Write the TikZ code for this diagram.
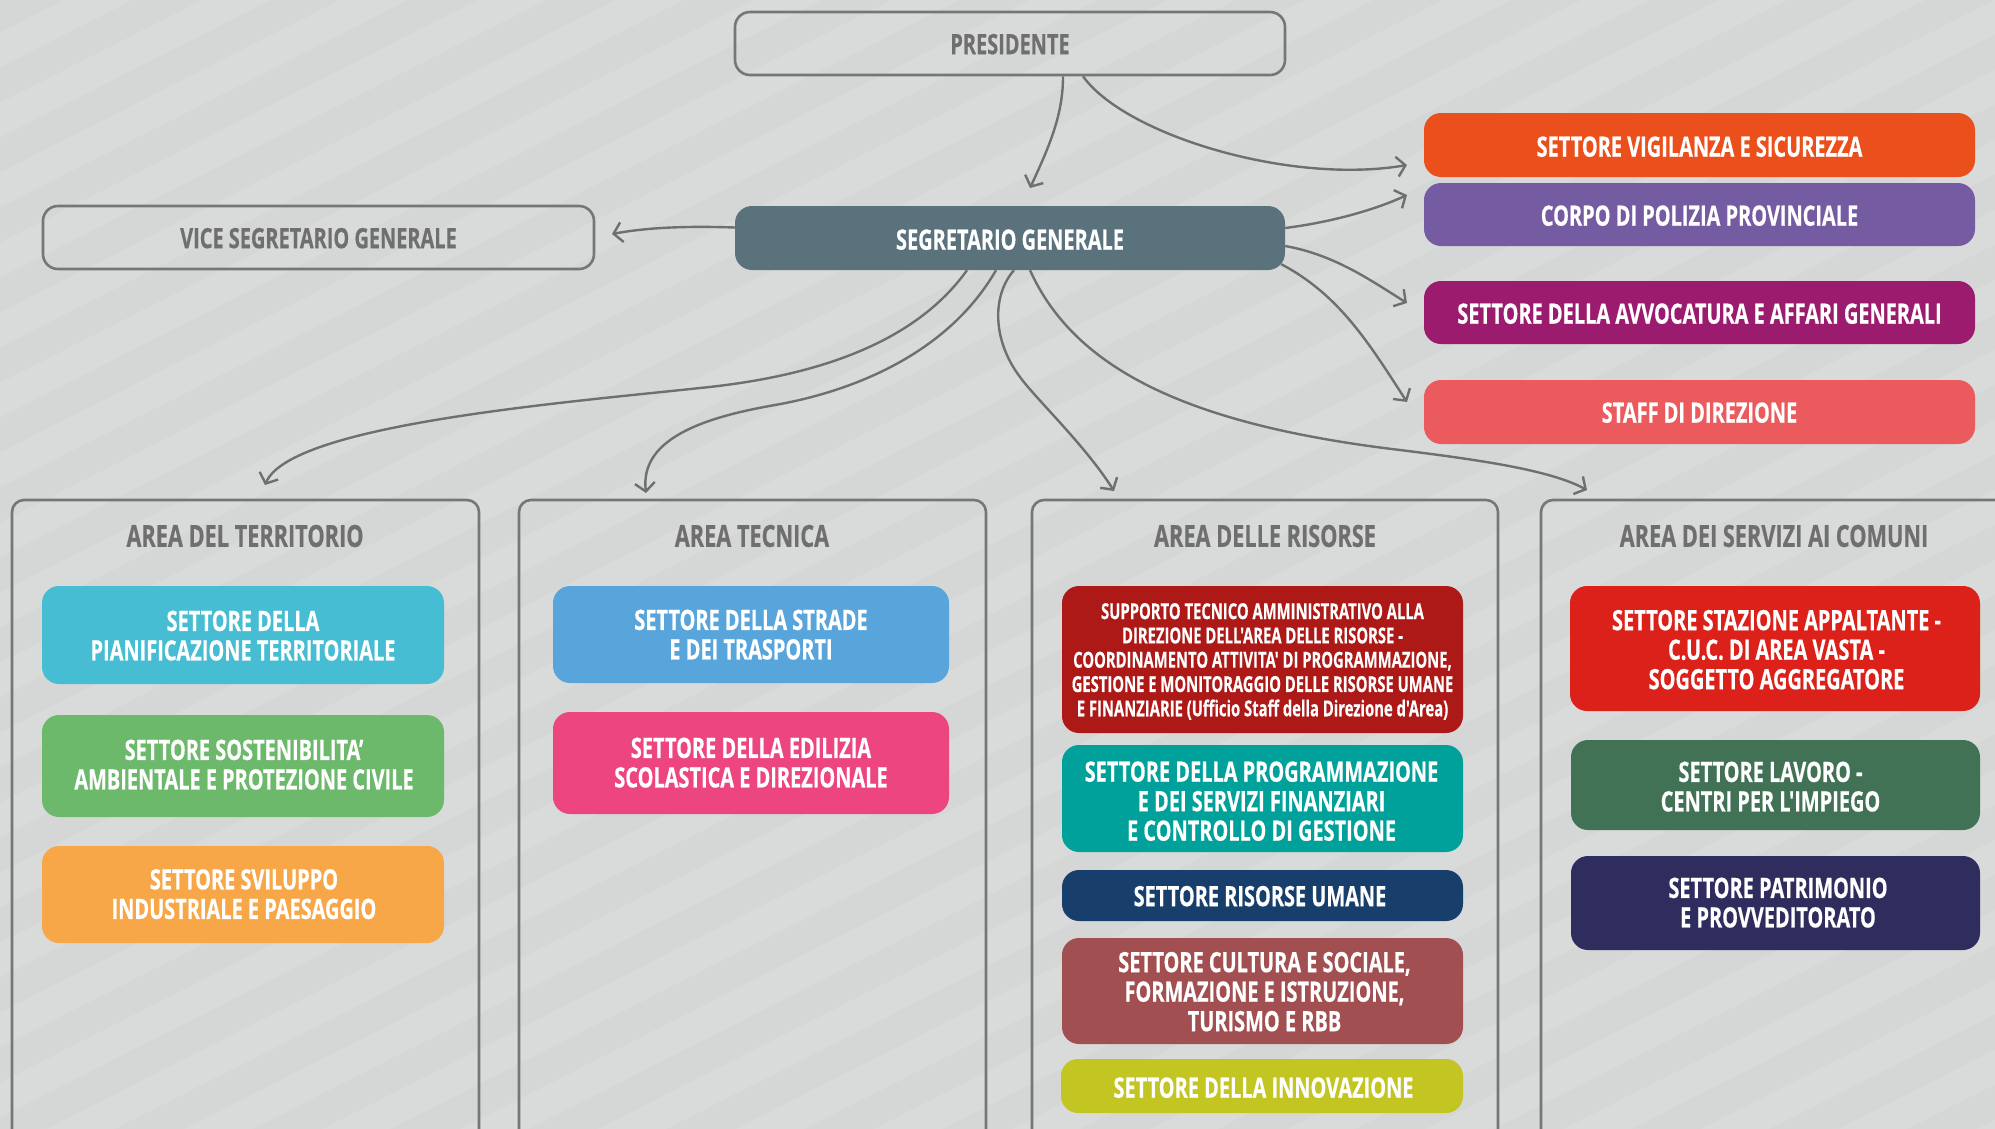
\documentclass[tikz,border=0pt]{standalone}
\usepackage{fontspec}
\usetikzlibrary{arrows.meta,calc}
\newfontfamily\cnd[FakeStretch=0.712,FakeBold=0.5]{Open Sans}
\newfontfamily\cndS[FakeStretch=0.673,FakeBold=0.4]{Open Sans}
\definecolor{bgA}{HTML}{D9DBDA}
\definecolor{bgB}{HTML}{D5D7D6}
\definecolor{edge}{HTML}{757675}
\definecolor{ink}{HTML}{6E6F6E}
\definecolor{cPoli}{HTML}{755CA2}
\definecolor{cVig}{HTML}{EA4F1C}
\definecolor{cAvv}{HTML}{9B1B6F}
\definecolor{cStaff}{HTML}{EB5A5C}
\definecolor{cSeg}{HTML}{5A727C}
\definecolor{cPian}{HTML}{47BDD3}
\definecolor{cSost}{HTML}{6CB96C}
\definecolor{cSvil}{HTML}{F8A748}
\definecolor{cStra}{HTML}{58A5DC}
\definecolor{cEdil}{HTML}{EC4580}
\definecolor{cSupp}{HTML}{AC1917}
\definecolor{cProg}{HTML}{00A19A}
\definecolor{cUman}{HTML}{183F6C}
\definecolor{cCult}{HTML}{A14F51}
\definecolor{cInno}{HTML}{C3C622}
\definecolor{cStaz}{HTML}{DB2119}
\definecolor{cLavo}{HTML}{427256}
\definecolor{cPatr}{HTML}{2F2D5E}
\tikzset{
  txt/.style={font=\cnd\bfseries\fontsize{28}{29.5}\selectfont,inner sep=0pt},
  fillbox/.style={txt,text=white,rounded corners=17,draw=none},
  outbox/.style={txt,text=ink,rounded corners=15,draw=edge,line width=2.6},
  panel/.style={rounded corners=12,draw=edge,line width=2.6},
  areatitle/.style={font=\cnd\bfseries\fontsize{30.5}{32}\selectfont,inner sep=0pt,text=ink},
  link/.style={draw=ink,line width=2.4,-{Straight Barb[length=8.5,width=20,line width=2.4]}}
}
% #1 name, #2 x1, #3 y1, #4 x2, #5 y2, #6 style, #7 text dx, #8 text dy, #9 text
\newcommand{\bx}[9]{%
  \node[#6,minimum width={(#4-#2)*1pt},minimum height={(#5-#3)*1pt}] (#1) at ({(#2+#4)/2},{(#3+#5)/2})
  {\raisebox{\dimexpr-11pt-#8pt\relax}[0pt][0pt]{\makebox[0pt][c]{\hspace*{#7pt}\hspace*{#7pt}\begin{tabular}{@{}c@{}}#9\end{tabular}}}};}
\newcommand{\pn}[5]{%
  \node[panel,minimum width={(#4-#2)*1pt},minimum height={(#5-#3)*1pt}] (#1) at ({(#2+#4)/2},{(#3+#5)/2}) {};}
\begin{document}
\begin{tikzpicture}[x=1pt,y=-1pt]
\useasboundingbox (0,0) rectangle (1995,1128);
\clip (-5,-5) rectangle (2000,1133);
\fill[bgA] (-5,-5) rectangle (2000,1133);
\foreach \k in {0,...,32}{
  \fill[bgB] (-5,{\k*70}) -- (-5,{\k*70+35}) -- (2000,{\k*70+35-1018}) -- (2000,{\k*70-1018}) -- cycle;
}
\bx{pres}{735}{12}{1285}{75}{outbox}{0}{0}{PRESIDENTE}
\bx{vice}{43}{206}{594}{269}{outbox}{0}{0}{VICE SEGRETARIO GENERALE}
\bx{seg}{735}{206}{1285}{270}{fillbox,fill=cSeg}{0}{1}{SEGRETARIO GENERALE}
\bx{vig}{1424}{113}{1975}{177}{fillbox,fill=cVig}{0}{1}{SETTORE VIGILANZA E SICUREZZA}
\bx{poli}{1424}{183}{1975}{246}{fillbox,fill=cPoli}{0}{0.5}{CORPO DI POLIZIA PROVINCIALE}
\bx{avv}{1424}{281}{1975}{344}{fillbox,fill=cAvv}{0}{0.5}{SETTORE DELLA AVVOCATURA E AFFARI GENERALI}
\bx{staff}{1424}{380}{1975}{444}{fillbox,fill=cStaff}{0}{0}{STAFF DI DIREZIONE}
% panels
\pn{pA}{12}{500}{479}{1220}
\pn{pB}{519}{500}{986}{1220}
\pn{pC}{1032}{500}{1498}{1220}
\pn{pD}{1541}{500}{2010}{1220}
\node[areatitle] (tA) at (245,536) {AREA DEL TERRITORIO};
\node[areatitle] (tB) at (752,536) {AREA TECNICA};
\node[areatitle] (tC) at (1265,536) {AREA DELLE RISORSE};
\node[areatitle] (tD) at (1774,536) {AREA DEI SERVIZI AI COMUNI};
% area 1
\bx{pian}{42}{586}{444}{684}{fillbox,fill=cPian}{0}{0}{SETTORE DELLA\\PIANIFICAZIONE TERRITORIALE}
\bx{sost}{42}{715}{444}{817}{fillbox,fill=cSost}{1}{-2}{SETTORE SOSTENIBILITA’\\AMBIENTALE E PROTEZIONE CIVILE}
\bx{svil}{42}{846}{444}{943}{fillbox,fill=cSvil}{1}{-1}{SETTORE SVILUPPO\\INDUSTRIALE E PAESAGGIO}
% area 2
\bx{stra}{553}{586}{949}{683}{fillbox,fill=cStra}{0}{-0.5}{SETTORE DELLA STRADE\\E DEI TRASPORTI}
\bx{edil}{553}{712}{949}{814}{fillbox,fill=cEdil}{0}{-1}{SETTORE DELLA EDILIZIA\\SCOLASTICA E DIREZIONALE}
% area 3
\bx{supp}{1062}{586}{1463}{733}{fillbox,fill=cSupp,font=\cndS\bfseries\fontsize{22}{24.3}\selectfont}{0}{-2.5}{SUPPORTO TECNICO AMMINISTRATIVO ALLA\\DIREZIONE DELL'AREA DELLE RISORSE -\\COORDINAMENTO ATTIVITA' DI PROGRAMMAZIONE,\\GESTIONE E MONITORAGGIO DELLE RISORSE UMANE\\E FINANZIARIE (Ufficio Staff della Direzione d'Area)}
\bx{prog}{1062}{745}{1463}{852}{fillbox,fill=cProg}{-1}{2}{SETTORE DELLA PROGRAMMAZIONE\\E DEI SERVIZI FINANZIARI\\E CONTROLLO DI GESTIONE}
\bx{uman}{1062}{870}{1463}{921}{fillbox,fill=cUman}{-2.5}{0}{SETTORE RISORSE UMANE}
\bx{cult}{1062}{938}{1463}{1044}{fillbox,fill=cCult}{2}{0}{SETTORE CULTURA E SOCIALE,\\FORMAZIONE E ISTRUZIONE,\\TURISMO E RBB}
\bx{inno}{1061}{1059}{1463}{1113}{fillbox,fill=cInno}{1.5}{1}{SETTORE DELLA INNOVAZIONE}
% area 4
\bx{staz}{1570}{586}{1980}{711}{fillbox,fill=cStaz}{1.5}{0.5}{SETTORE STAZIONE APPALTANTE -\\C.U.C. DI AREA VASTA -\\SOGGETTO AGGREGATORE}
\bx{lavo}{1571}{740}{1980}{830}{fillbox,fill=cLavo}{-5}{1}{SETTORE LAVORO -\\CENTRI PER L'IMPIEGO}
\bx{patr}{1571}{856}{1980}{950}{fillbox,fill=cPatr}{2.5}{-1}{SETTORE PATRIMONIO\\E PROVVEDITORATO}
% arrow ends
\coordinate (eSeg) at (1030,188);
\coordinate (eVig) at (1407,165);
\coordinate (ePoli) at (1407,195);
\coordinate (eAvv) at (1407,303);
\coordinate (eStaff) at (1407,402);
\coordinate (eVice) at (612,234);
\coordinate (eA) at (265,485);
\coordinate (eB) at (646,493);
\coordinate (eC) at (1114,491);
\coordinate (eD) at (1587,490);
% connectors
\draw[link] ([xshift=53]pres.south) .. controls +(0,38) and (1050,145) .. (eSeg);
\draw[link] ([xshift=73]pres.south) .. controls (1125,135) and (1290,185) .. (eVig);
\draw[link] ([yshift=10]seg.east) .. controls (1325,223) and (1370,212) .. (ePoli);
\draw[link] ([yshift=-8]seg.east) .. controls (1335,255) and (1370,280) .. (eAvv);
\draw[link] ([xshift=-4,yshift=6]seg.south east) .. controls (1340,295) and (1370,345) .. (eStaff);
\draw[link] ([yshift=10.5]seg.west) .. controls (690,226) and (650,227) .. (eVice);
\draw[link] ([xshift=4]seg.south) .. controls (992,295) and (992,340) .. (1020,377) .. controls (1035,398) and (1085,445) .. (eC);
\draw[link] ([xshift=20]seg.south) .. controls (1075,370) and (1190,425) .. (1400,450) .. controls (1480,460) and (1550,470) .. (eD);
\draw[link] ([xshift=-43]seg.south) .. controls (910,350) and (800,378) .. (700,388) .. controls (560,403) and (290,425) .. (eA);
\draw[link] ([xshift=-14]seg.south) .. controls (950,350) and (860,390) .. (775,405) .. controls (700,418) and (640,440) .. (eB);
\end{tikzpicture}
\end{document}
